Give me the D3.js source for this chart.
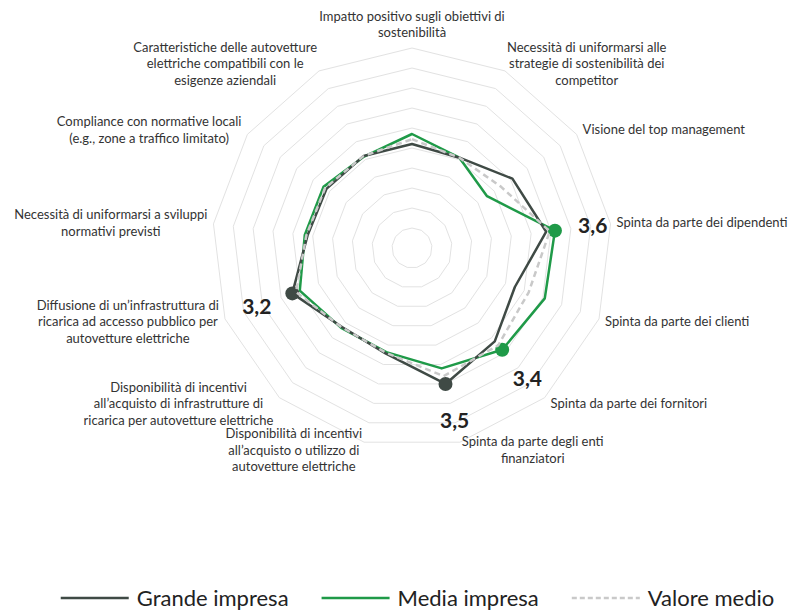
<!doctype html>
<html lang="it">
<head>
    <title>Radar - fattori di adozione</title>
    <meta charset="utf-8"/>
    <script src="https://d3js.org/d3.v7.min.js"></script>
    <style>
        body {
            margin: 0;
            padding: 0;
            background: #fff;
        }

        svg {
            display: block;
            font-family: Lato, 'Open Sans', sans-serif;
        }
    </style>
</head>
<body>
<script>

    // categorie (in senso orario, partendo dall'alto)
    const categorie = [
        "Impatto positivo sugli obiettivi di\nsostenibilità",
        "Necessità di uniformarsi alle\nstrategie di sostenibilità dei\ncompetitor",
        "Visione del top management",
        "Spinta da parte dei dipendenti",
        "Spinta da parte dei clienti",
        "Spinta da parte dei fornitori",
        "Spinta da parte degli enti\nfinanziatori",
        "Disponibilità di incentivi\nall’acquisto o utilizzo di\nautovetture elettriche",
        "Disponibilità di incentivi\nall’acquisto di infrastrutture di\nricarica per autovetture elettriche",
        "Diffusione di un’infrastruttura di\nricarica ad accesso pubblico per\nautovetture elettriche",
        "Necessità di uniformarsi a sviluppi\nnormativi previsti",
        "Compliance con normative locali\n(e.g., zone a traffico limitato)",
        "Caratteristiche delle autovetture\nelettriche compatibili con le\nesigenze aziendali"
    ]

    // valori
    const grandeImpresa = [2.6, 2.55, 3.05, 3.38, 2.75, 3.12, 3.5, 2.72, 2.64, 3.2, 2.63, 2.6, 2.6]
    const mediaImpresa = [2.85, 2.55, 2.28, 3.6, 3.55, 3.4, 3.1, 2.68, 2.67, 3.0, 2.7, 2.69, 2.58]
    const valoreMedio = [2.72, 2.55, 2.7, 3.47, 3.12, 3.25, 3.3, 2.7, 2.65, 3.1, 2.66, 2.64, 2.6]

    // punti evidenziati con etichetta
    const grandeEvidenziati = [6, 9]
    const mediaEvidenziati = [3, 5]

    // scala radiale e anelli della griglia
    const valoreMax = 5
    const anelli = d3.range(0.5, 5.01, 0.5)

    const width = 794, height = 610
    const cx = 412, cy = 248
    const raggio = 200

    const svg = d3.select("body")
        .append("svg")
        .attr("width", width)
        .attr("height", height)

    const n = categorie.length
    const angolo = d3.scaleLinear().domain([0, n]).range([0, 2 * Math.PI])
    const r = d3.scaleLinear().domain([0, valoreMax]).range([0, raggio])

    const g = svg.append("g").attr("transform", `translate(${cx},${cy})`)

    // griglia poligonale
    const linea = d3.lineRadial()
        .angle((d, i) => angolo(i))
        .radius(d => r(d))
        .curve(d3.curveLinearClosed)

    g.selectAll(".anello")
        .data(anelli)
        .enter()
        .append("path")
        .attr("class", "anello")
        .attr("d", v => linea(d3.range(n).map(() => v)))
        .attr("fill", "none")
        .attr("stroke", "#e2e2e2")
        .attr("stroke-width", 1)

    // etichette delle categorie
    function punto(i, v) {
        const a = angolo(i)
        return [r(v) * Math.sin(a), -r(v) * Math.cos(a)]
    }

    const lh = 16.5
    categorie.forEach(function (testo, i) {
        const righe = testo.split("\n")
        const a = angolo(i)
        const s = Math.sin(a), c = Math.cos(a)
        const [vx, vy] = punto(i, valoreMax)

        const t = g.append("text")
            .attr("font-size", 13)
            .attr("fill", "#333")
            .attr("text-anchor", "middle")
        const spans = righe.map((riga, k) => t.append("tspan").text(riga))
        const larg = d3.max(spans, sp => sp.node().getComputedTextLength())
        const alt = righe.length * lh

        let centroX, centroY
        if (Math.abs(s) < 0.1) {
            centroX = vx
            centroY = vy - 7 - alt / 2
        } else {
            const off = Math.abs(s) > 0.5 ? 6 : 2
            centroX = s > 0 ? vx + off + larg / 2 : vx - off - larg / 2
            centroY = vy - 8 * c
        }
        spans.forEach((sp, k) => {
            sp.attr("x", centroX)
                .attr("y", centroY - alt / 2 + lh * k + lh / 2)
                .attr("dy", "0.35em")
        })
    })

    // serie
    const serie = [
        {nome: "Media impresa", valori: mediaImpresa, colore: "#1f9a48", dash: null, punti: mediaEvidenziati},
        {nome: "Grande impresa", valori: grandeImpresa, colore: "#3f4a45", dash: null, punti: grandeEvidenziati},
        {nome: "Valore medio", valori: valoreMedio, colore: "#c9c9c9", dash: "6,4", punti: []}
    ]

    const formatta = v => d3.format(".1f")(v).replace(".", ",")

    serie.forEach(function (s) {
        g.append("path")
            .attr("d", linea(s.valori))
            .attr("fill", "none")
            .attr("stroke", s.colore)
            .attr("stroke-width", 2.5)
            .attr("stroke-dasharray", s.dash)
            .attr("stroke-linejoin", "round")

        g.selectAll(null)
            .data(s.punti)
            .enter()
            .append("circle")
            .attr("cx", i => punto(i, s.valori[i])[0])
            .attr("cy", i => punto(i, s.valori[i])[1])
            .attr("r", 7)
            .attr("fill", s.colore)

        g.selectAll(null)
            .data(s.punti)
            .enter()
            .append("text")
            .attr("x", i => punto(i, s.valori[i] + 38 / r(1))[0])
            .attr("y", i => punto(i, s.valori[i] + 38 / r(1))[1])
            .attr("dy", "0.35em")
            .attr("text-anchor", "middle")
            .attr("font-size", 21)
            .attr("font-weight", "bold")
            .attr("fill", "#222")
            .text(i => formatta(s.valori[i]))
    })

    // legenda
    const legendaOrdine = [serie[1], serie[0], serie[2]]
    const legenda = svg.append("g").attr("transform", "translate(0,598)")
    const lungLinea = 68, gapTesto = 8, gapVoce = 33
    const voci = legenda.selectAll("g")
        .data(legendaOrdine)
        .enter()
        .append("g")

    voci.append("line")
        .attr("x1", 0).attr("x2", lungLinea)
        .attr("y1", 0).attr("y2", 0)
        .attr("stroke", d => d.colore)
        .attr("stroke-width", 2.5)
        .attr("stroke-dasharray", d => d.dash ? "5,3" : null)

    voci.append("text")
        .attr("x", lungLinea + gapTesto)
        .attr("dy", "0.35em")
        .attr("font-size", 22)
        .attr("fill", "#222")
        .text(d => d.nome)

    let xPos = 0
    const larghezze = []
    voci.each(function () {
        larghezze.push(lungLinea + gapTesto + d3.select(this).select("text").node().getComputedTextLength())
    })
    const totale = d3.sum(larghezze) + gapVoce * (larghezze.length - 1)
    xPos = 417.5 - totale / 2
    voci.each(function (d, i) {
        d3.select(this).attr("transform", `translate(${xPos},0)`)
        xPos += larghezze[i] + gapVoce
    })

</script>
</body>
</html>
